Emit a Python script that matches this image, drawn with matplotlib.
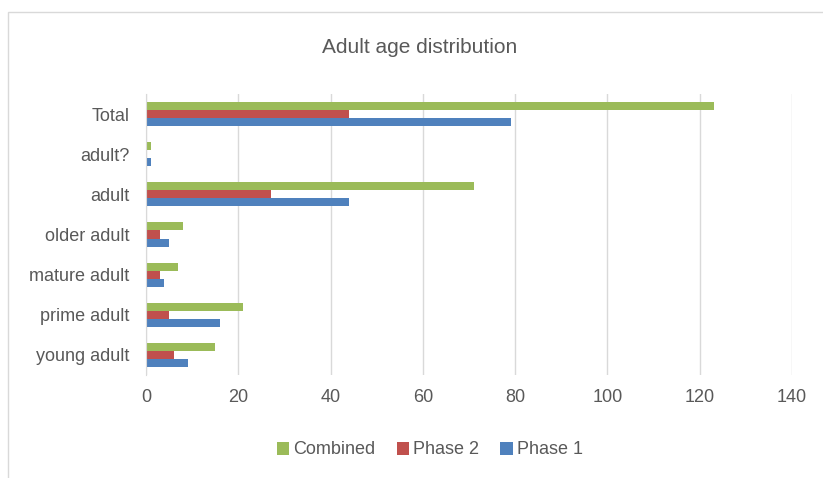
#Adult age distribution - horizontal grouped bar chart
import matplotlib.pyplot as plt
import matplotlib.patches as patches
import numpy as np

plt.rcParams['font.family'] = ['Liberation Sans Narrow', 'Liberation Sans', 'DejaVu Sans']

categories = ['young adult', 'prime adult', 'mature adult', 'older adult', 'adult', 'adult?', 'Total']
phase1 = [9, 16, 4, 5, 44, 1, 79]
phase2 = [6, 5, 3, 3, 27, 0, 44]
combined = [15, 21, 7, 8, 71, 1, 123]

green = '#9BBB59'
red = '#C0504D'
blue = '#4F81BD'
txt = '#595959'

fig = plt.figure(figsize=(8.23, 4.78), dpi=100)
fig.patches.append(patches.Rectangle((8/823, -0.1), 1.0, 1 - 12/478 + 0.1, transform=fig.transFigure,
                                     fill=False, edgecolor='#D9D9D9', linewidth=1))
ax = fig.add_axes([146/823, 1-375/478, (792-146)/823, (375-94)/478])

y = np.arange(len(categories))
h = 0.2
ax.barh(y + h, combined, height=h, color=green, label='Combined')
ax.barh(y, phase2, height=h, color=red, label='Phase 2')
ax.barh(y - h, phase1, height=h, color=blue, label='Phase 1')

ax.set_xlim(0, 140)
ax.set_ylim(-0.5, len(categories) - 0.5)
ax.set_xticks(range(0, 141, 20))
ax.set_yticks(y)
ax.set_yticklabels(categories)
ax.tick_params(axis='both', length=0, labelsize=13, colors=txt)
ax.tick_params(axis='y', pad=12)
ax.tick_params(axis='x', pad=10)
ax.grid(axis='x', color='#D9D9D9', linewidth=1)
ax.set_axisbelow(True)
for s in ['top', 'right', 'bottom']:
    ax.spines[s].set_visible(False)
ax.spines['left'].set_color('#D9D9D9')

fig.text(0.51, 1-47/478, 'Adult age distribution', ha='center', va='center', fontsize=15, color=txt)
fig.legend(loc='center', bbox_to_anchor=(0.522, 1-450/478), ncol=3, frameon=False,
           fontsize=13, labelcolor=txt, handlelength=0.7, handleheight=0.7,
           handletextpad=0.2, columnspacing=1.2)

plt.savefig('out.png', dpi=100)
